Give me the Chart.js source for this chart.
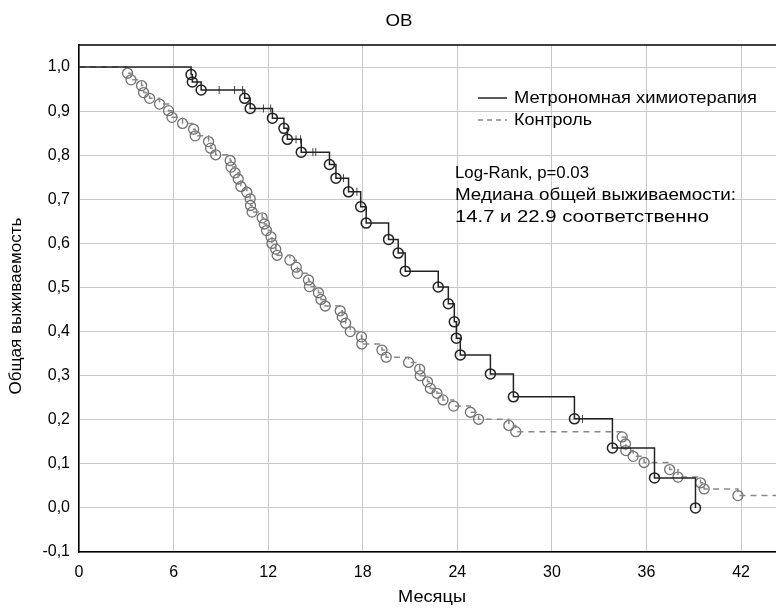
<!DOCTYPE html>
<html>
<head>
<meta charset="utf-8">
<script src="https://cdn.jsdelivr.net/npm/chart.js@4.4.0/dist/chart.umd.min.js"></script>
<style>
  html, body { margin: 0; padding: 0; background: #fff; overflow: hidden; }
  /* a bit wider than the window: the plot runs off the right edge like in the picture */
  #wrap { width: 783px; height: 611px; position: relative; }
</style>
</head>
<body>
<div id="wrap"><canvas id="grafico"></canvas></div>
<script>
// tick labels
const xTicks = [0, 6, 12, 18, 24, 30, 36, 42];
const yTicks = [-0.1, 0, 0.1, 0.2, 0.3, 0.4, 0.5, 0.6, 0.7, 0.8, 0.9, 1.0];

// Метрономная химиотерапия: events (months, survival) and censored times
const metroTimes = [7.11, 7.19, 7.75, 10.51, 10.86, 12.27, 13.0, 13.22, 14.10, 15.89, 16.30, 17.10, 17.87, 18.22,
  19.64, 20.25, 20.70, 22.79, 23.43, 23.81, 23.94, 24.19, 26.10, 27.56, 31.43, 33.84, 36.51, 39.11];
const metroSurv = [0.983, 0.966, 0.948, 0.929, 0.906, 0.884, 0.861, 0.836, 0.807, 0.779, 0.748, 0.717, 0.683, 0.646,
  0.609, 0.578, 0.537, 0.501, 0.463, 0.422, 0.385, 0.347, 0.304, 0.252, 0.202, 0.136, 0.068, 0.0];
const metroCens = [8.89, 9.87, 10.38, 11.70, 12.16, 13.77, 14.06, 14.84, 15.02, 16.78, 17.63, 31.94];

// Контроль
const ctrlTimes = [3.08, 3.30, 3.97, 4.10, 4.48, 5.11, 5.68, 5.90, 6.57, 7.27, 7.37, 8.22, 8.35, 8.67, 9.59, 9.65,
  9.90, 10.10, 10.27, 10.65, 10.86, 10.88, 10.98, 11.62, 11.76, 11.90, 12.18, 12.24, 12.48, 12.57, 13.38, 13.78,
  13.86, 14.56, 14.62, 15.19, 15.35, 15.62, 16.57, 16.70, 16.92, 17.21, 17.92, 17.94, 19.22, 19.49, 20.91, 21.61,
  21.65, 22.11, 22.29, 22.71, 23.09, 23.77, 24.83, 25.35, 27.27, 27.71, 34.46, 34.67, 34.69, 35.16, 35.85, 37.47,
  38.0, 39.43, 39.66, 41.80];
const ctrlSurv = [0.986, 0.971, 0.958, 0.942, 0.929, 0.916, 0.901, 0.886, 0.872, 0.859, 0.844, 0.831, 0.816, 0.801,
  0.788, 0.773, 0.760, 0.746, 0.729, 0.716, 0.701, 0.686, 0.671, 0.658, 0.644, 0.629, 0.615, 0.600, 0.587, 0.573,
  0.562, 0.546, 0.532, 0.517, 0.502, 0.488, 0.473, 0.458, 0.447, 0.433, 0.419, 0.400, 0.388, 0.372, 0.358, 0.342,
  0.330, 0.315, 0.300, 0.286, 0.271, 0.260, 0.245, 0.231, 0.217, 0.201, 0.187, 0.173, 0.161, 0.145, 0.130, 0.117,
  0.103, 0.087, 0.070, 0.057, 0.043, 0.028];
const ctrlLastFollowUp = 46;

const FONT = '"Liberation Sans", Arial, sans-serif';

function survAt(times, surv, t) {
  let s = 1;
  for (let i = 0; i < times.length; i++) if (times[i] <= t) s = surv[i];
  return s;
}

const metroLine = [{x: 0, y: 1}].concat(metroTimes.map((t, i) => ({x: t, y: metroSurv[i]})));
const metroPts = metroTimes.map((t, i) => ({x: t, y: metroSurv[i]}));
const metroCensPts = metroCens.map(t => ({x: t, y: survAt(metroTimes, metroSurv, t)}));
const ctrlLine = [{x: 0, y: 1}].concat(ctrlTimes.map((t, i) => ({x: t, y: ctrlSurv[i]})),
  [{x: ctrlLastFollowUp, y: ctrlSurv[ctrlSurv.length - 1]}]);
const ctrlPts = ctrlTimes.map((t, i) => ({x: t, y: ctrlSurv[i]}));

// text squeezed/stretched to the width it has in the picture
function fitText(c, txt, x, y, w, align) {
  const m = c.measureText(txt).width;
  const sx = w / m;
  c.save();
  c.translate(align === 'center' ? x - w / 2 : x, y);
  c.scale(sx, 1);
  c.textAlign = 'left';
  c.fillText(txt, 0, 0);
  c.restore();
}

const textPlugin = {
  id: 'texts',
  afterDraw(chart) {
    const c = chart.ctx, a = chart.chartArea;
    c.save();
    // top frame
    c.strokeStyle = '#000'; c.lineWidth = 1.5;
    c.beginPath(); c.moveTo(a.left, a.top); c.lineTo(a.right, a.top); c.stroke();
    c.fillStyle = '#000';
    c.font = '17px ' + FONT;
    c.textBaseline = 'middle';
    fitText(c, 'ОВ', 399, 21, 27, 'center');
    fitText(c, 'Месяцы', 432, 597, 68, 'center');
    c.save();
    c.translate(16, 306); c.rotate(-Math.PI / 2);
    fitText(c, 'Общая выживаемость', 0, 0, 177, 'center');
    c.restore();
    // legend
    c.lineWidth = 1.5;
    c.strokeStyle = '#222';
    c.beginPath(); c.moveTo(478, 98); c.lineTo(507, 98); c.stroke();
    c.strokeStyle = '#888'; c.setLineDash([5, 4]);
    c.beginPath(); c.moveTo(478, 120); c.lineTo(507, 120); c.stroke();
    c.setLineDash([]);
    fitText(c, 'Метрономная химиотерапия', 514, 98, 243);
    fitText(c, 'Контроль', 514, 120, 78);
    fitText(c, 'Log-Rank, p=0.03', 455, 173, 134);
    fitText(c, 'Медиана общей выживаемости:', 455, 195, 281);
    fitText(c, '14.7 и 22.9 соответственно', 455, 217, 254);
    c.restore();
  }
};

new Chart(document.getElementById('grafico'), {
  type: 'line',
  data: {
    datasets: [
      {label: 'Метрономная химиотерапия', data: metroLine, stepped: true, borderColor: '#222', borderWidth: 1.5,
        pointRadius: 0, fill: false},
      {label: 'mc', type: 'scatter', data: metroPts, pointStyle: 'circle', pointRadius: 5, borderColor: '#222',
        backgroundColor: 'rgba(0,0,0,0)', pointBorderWidth: 1.5},
      {label: 'mcens', type: 'scatter', data: metroCensPts, pointStyle: 'line', rotation: 90, pointRadius: 4,
        borderColor: '#444', pointBorderWidth: 1},
      {label: 'Контроль', data: ctrlLine, stepped: true, borderColor: '#888', borderWidth: 1.5,
        borderDash: [6, 5], pointRadius: 0, fill: false},
      {label: 'cc', type: 'scatter', data: ctrlPts, pointStyle: 'circle', pointRadius: 5, borderColor: '#707070',
        backgroundColor: 'rgba(0,0,0,0)', pointBorderWidth: 1.3}
    ]
  },
  options: {
    responsive: true,
    maintainAspectRatio: false,
    animation: false,
    layout: {padding: {top: 45, right: 0, left: 0, bottom: 0}},
    plugins: {legend: {display: false}, tooltip: {enabled: false}, title: {display: false}},
    scales: {
      x: {
        type: 'linear', min: 0, max: 44.25,
        afterBuildTicks: s => { s.ticks = xTicks.map(v => ({value: v})); },
        afterFit: s => { s.height = 59; },
        grid: {color: '#c8c8c8', drawTicks: false},
        border: {color: '#000', width: 1.5},
        ticks: {padding: 11, color: '#000', font: {family: FONT, size: 16}}
      },
      y: {
        type: 'linear', min: -0.1, max: 1.05,
        afterBuildTicks: s => { s.ticks = yTicks.map(v => ({value: v})); },
        afterFit: s => { s.width = 79; },
        grid: {color: '#c8c8c8', drawTicks: false},
        border: {color: '#000', width: 1.5},
        ticks: {padding: 9, color: '#000', font: {family: FONT, size: 16},
          callback: v => v.toFixed(1).replace('.', ',')}
      }
    }
  },
  plugins: [textPlugin]
});
</script>
</body>
</html>
